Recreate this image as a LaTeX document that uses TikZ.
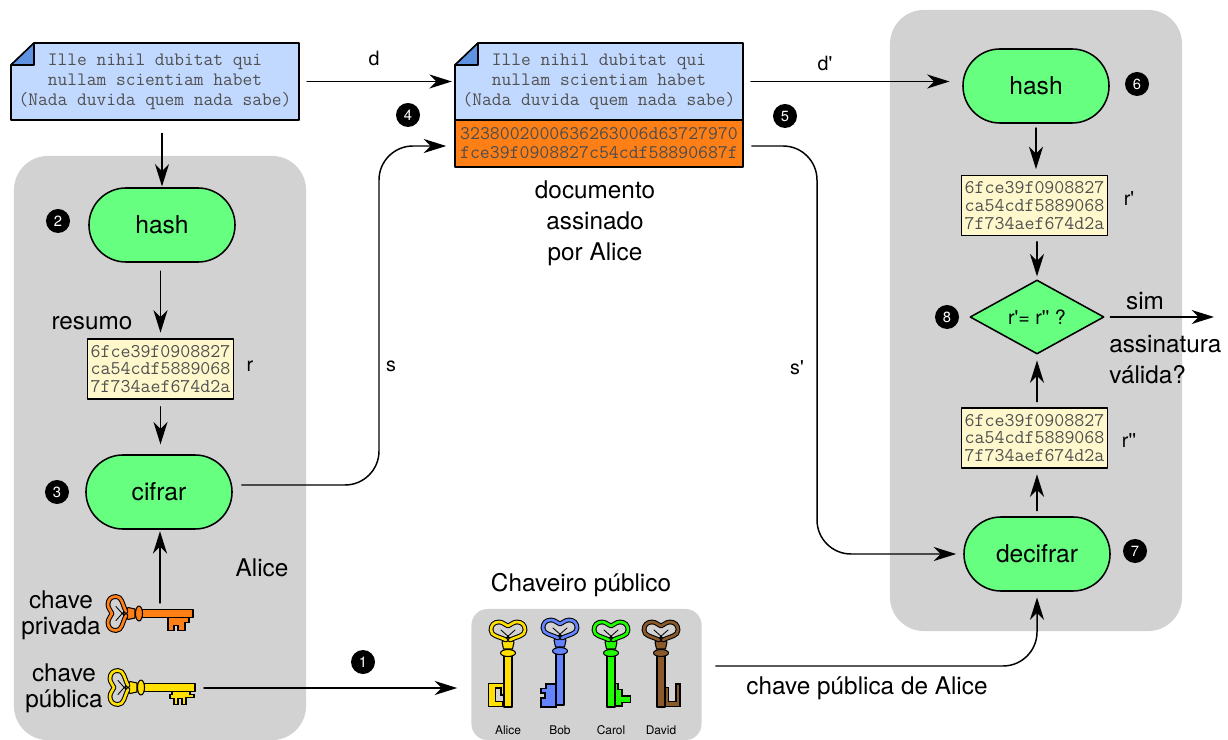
\documentclass[tikz,border=0pt]{standalone}
\usepackage{fontspec}
\setmainfont{TeX Gyre Heros}[Ligatures=TeXOff]
\usepackage{pgf,tikz}
\usetikzlibrary{arrows.meta}
\usetikzlibrary{shapes.geometric}
\usetikzlibrary{shapes.misc}
\definecolor{panelgray}{HTML}{D2D2D2}
\definecolor{stepgreen}{HTML}{66FF80}
\definecolor{docblue}{HTML}{C2D9FF}
\definecolor{earblue}{HTML}{5F92E0}
\definecolor{sigorange}{HTML}{FF7F17}
\definecolor{hashyellow}{HTML}{FFF8CC}
\definecolor{monogray}{HTML}{505050}
\definecolor{keyyellow}{HTML}{FFE000}
\definecolor{keyblue}{HTML}{6484FF}
\definecolor{keygreen}{HTML}{1FFF00}
\definecolor{keybrown}{HTML}{8B5A2B}
\begin{document}
\begin{tikzpicture}[line cap=round,line join=round,x=0.025cm,y=-0.025cm,
  >={Stealth[length=16pt,width=10pt,inset=5pt]},
  panel/.style={fill=panelgray,rounded corners=0.85cm,minimum width=7.3cm},
  stepbox/.style={rounded rectangle,draw=black,line width=1.1pt,fill=stepgreen,minimum width=3.65cm,minimum height=1.85cm,inner sep=0pt,font=\fontsize{17.5}{20}\selectfont},
  doctext/.style={minimum width=7.2cm,minimum height=1.93cm,inner sep=0pt,align=center,text=monogray,font=\ttfamily\fontsize{13.45}{14.2}\selectfont},
  sigtext/.style={draw=black,line width=1.1pt,fill=sigorange,minimum width=7.2cm,minimum height=1.175cm,inner sep=0pt,align=center,text=black!70,font=\ttfamily\fontsize{13.7}{13.5}\selectfont},
  hashtext/.style={draw=black,line width=1pt,fill=hashyellow,minimum width=3.65cm,minimum height=1.5cm,inner sep=0pt,align=center,text=monogray,font=\ttfamily\fontsize{13.8}{12.5}\selectfont},
  bullet/.style={circle,fill=black,text=white,minimum size=0.6cm,inner sep=0pt,font=\fontsize{10.5}{11}\selectfont},
  lbl/.style={inner sep=0pt,align=center,font=\fontsize{17.3}{22}\selectfont},
  keylbl/.style={inner sep=0pt,align=center,font=\fontsize{17.3}{18.5}\selectfont},
  sml/.style={inner sep=0pt,font=\fontsize{14}{16}\selectfont},
  tiny/.style={inner sep=0pt,font=\fontsize{8.5}{10}\selectfont},
  link/.style={->,line width=1.05pt,black},
  pics/keypic/.style 2 args={code={
    \draw[draw=black,line width=0.75pt,fill=#1,line join=miter] #2 -- cycle;
    \draw[draw=black,line width=0.75pt,fill=#1] (34,-4) rectangle (85,4);
    \draw[draw=black,line width=0.75pt,fill=#1] (15,0) -- (20,-6) -- (27,-4.5) -- (27,4.5) -- (20,6) -- cycle;
    \draw[draw=black,line width=0.75pt,fill=#1] (31,0) ellipse (3.5 and 7.5);
    \draw[black,line width=3.4pt] (18,2) .. controls (14,10) and (14,17) .. (8,17) .. controls (3,17) and (0,14) .. (0,9) .. controls (0,5) and (3,3) .. (4,0) .. controls (3,-3) and (0,-5) .. (0,-9) .. controls (0,-14) and (3,-17) .. (8,-17) .. controls (14,-17) and (14,-10) .. (18,-2);
    \draw[#1,line width=1.9pt] (18,2) .. controls (14,10) and (14,17) .. (8,17) .. controls (3,17) and (0,14) .. (0,9) .. controls (0,5) and (3,3) .. (4,0) .. controls (3,-3) and (0,-5) .. (0,-9) .. controls (0,-14) and (3,-17) .. (8,-17) .. controls (14,-17) and (14,-10) .. (18,-2);
    \draw[black,line width=0.6pt] (8,-7) -- (16,2) (8,7) -- (16,-2);
  }}]
\useasboundingbox (0,0) rectangle (1228,740);
% gray panels
\node[panel,minimum height=14.6cm] (alicebox) at (160,448) {};
\node[panel,minimum height=15.525cm] (bobbox) at (1036,320.5) {};
\node[panel,minimum width=5.75cm,minimum height=3.275cm,rounded corners=0.4cm] (keyring) at (586.5,674.5) {};
% documents
\foreach \dx in {0,444} {
\draw[fill=docblue,line width=1.1pt] (11+\dx,65) -- (34+\dx,43) -- (299+\dx,43) -- (299+\dx,120) -- (11+\dx,120) -- cycle;
\draw[fill=earblue,line width=1.1pt] (11+\dx,65) -- (34+\dx,43) -- (34+\dx,65) -- cycle;
}
\node[doctext] (doca) at (155,81.5) {Ille nihil dubitat qui\\nullam scientiam habet\\(Nada duvida quem nada sabe)};
\node[doctext] (docb) at (599,81.5) {Ille nihil dubitat qui\\nullam scientiam habet\\(Nada duvida quem nada sabe)};
\node[sigtext] (sig) at (599,143.5) {3238002000636263006d63727970\\fce39f0908827c54cdf58890687f};
% steps
\node[stepbox] (hasha) at (162,225) {hash};
\node[hashtext] (resumo) at (160.5,369) {6fce39f0908827\\ca54cdf5889068\\7f734aef674d2a};
\node[stepbox] (cifrar) at (159,492) {cifrar};
\node[stepbox] (hashb) at (1036,86) {hash};
\node[hashtext] (rhash) at (1034.5,205.5) {6fce39f0908827\\ca54cdf5889068\\7f734aef674d2a};
\node[diamond,draw=black,line width=1.1pt,fill=stepgreen,aspect=1.8,minimum width=3.35cm,minimum height=1.85cm,inner sep=0pt,font=\fontsize{14}{16}\selectfont] (cmp) at (1037,317) {r'= r'' ?};
\node[hashtext] (rdec) at (1034.5,438) {6fce39f0908827\\ca54cdf5889068\\7f734aef674d2a};
\node[stepbox] (decifrar) at (1037,554) {decifrar};
% numbered bullets
\foreach \n/\x/\y in {1/363/662,2/58/221,3/57/492,4/408/115,5/785/116,6/1137/84,7/1135/551,8/947/317}
\node[bullet] (num\n) at (\x,\y) {\n};
% keys
\pic at (108,613.5) {keypic={sigorange}{(60,3.5) -- (81,3.5) -- (81,9) -- (77,9) -- (77,17) -- (70,17) -- (70,12) -- (66,12) -- (66,17) -- (60,17)}};
\pic at (110,687.5) {keypic={keyyellow}{(62,3.5) -- (80,3.5) -- (80,7) -- (84,7) -- (84,10) -- (76,10) -- (76,17) -- (72,17) -- (72,11) -- (68,11) -- (68,17) -- (64,17) -- (64,11) -- (60,11) -- (60,7) -- (62,7)}};
\pic[rotate=-90] at (508,622) {keypic={keyyellow}{(61.3,3.7) -- (61.3,19.3) -- (84.7,19.3) -- (84.7,5) -- (79.7,5) -- (79.7,12.7) -- (66,12.7) -- (66,7) -- (73,7) -- (73,3.7)}};
\pic[rotate=-90] at (560,620) {keypic={keyblue}{(64,4) -- (64,14) -- (68.3,14) -- (68.3,19) -- (73,19) -- (73,15) -- (78,15) -- (78,19) -- (87,19) -- (87,4)}};
\pic[rotate=-90] at (611,622) {keypic={keygreen}{(61.3,-4) -- (61.3,-7) -- (67.3,-7) -- (67.3,-11) -- (74,-11) -- (74,-19.3) -- (80.7,-19.3) -- (80.7,-11) -- (84,-11) -- (84,-4)}};
\pic[rotate=-90] at (661,622) {keypic={keybrown}{(65.3,-4) -- (65.3,-7.7) -- (79.7,-7.7) -- (79.7,-15) -- (62,-15) -- (62,-19) -- (84.7,-19) -- (84.7,-4)}};
\coordinate (keypriv) at (160,603);
\coordinate (keypub) at (204,688);
\coordinate (busS) at (379,300);
\coordinate (busT) at (817,300);
% connectors
\draw[link,shorten <=5pt,shorten >=0.5pt] (doca.south -| hasha.north) ++(0,6) -- (hasha.north);
\draw[link,shorten <=5.5pt,shorten >=2pt] (doca.east) -- (docb.west);
\draw[link,shorten <=5.5pt,shorten >=9pt] (docb.east) -- (docb.east -| hashb.west);
\draw[link,shorten <=6pt,shorten >=4pt] (hasha.south -| resumo.north) -- (resumo.north);
\draw[link,shorten <=5pt,shorten >=7pt] (resumo.south) -- (cifrar.north -| resumo.south);
\draw[link,shorten >=1pt] (keypriv) -- (cifrar.south -| keypriv);
\draw[link,rounded corners=0.85cm] ([shift={(9,-7)}]cifrar.east) -| (busS) |- ([shift={(-8,2.5)}]sig.west);
\draw[link,rounded corners=0.85cm] ([shift={(8,2.5)}]sig.east) -| (busT) |- ([xshift=-5pt]decifrar.west);
\draw[link,shorten >=10pt] (keypub) -- (keypub -| keyring.west);
\draw[link,rounded corners=0.85cm,shorten >=4pt] ([shift={(14,-8.5)}]keyring.east) -| (decifrar.south);
\draw[link,shorten <=3pt,shorten >=4pt] (hashb.south) -- (rhash.north -| hashb.south);
\draw[link,shorten <=4pt,shorten >=2pt] (rhash.south -| cmp.north) -- (cmp.north);
\draw[link,shorten <=4pt,shorten >=4pt] (decifrar.north) -- (rdec.south -| decifrar.north);
\draw[link,shorten <=4pt,shorten >=4pt] (rdec.north -| cmp.south) -- (cmp.south);
\coordinate (simend) at (1214,317);
\draw[link,shorten <=4pt] (cmp.east) -- (simend);
% labels
\node[sml] (lbld) at (374,58) {d};
\node[sml] (lbldp) at (825,63) {d'};
\node[sml] (lbls) at (391,366) {s};
\node[sml] (lblsp) at (797,368) {s'};
\node[sml] (lblr) at (250,366) {r};
\node[sml] (lblrp) at (1129,199) {r'};
\node[sml] (lblrr) at (1129,441) {r''};
\node[lbl] (lblresumo) at (92,323) {resumo};
\node[lbl] (lblass) at (595,223) {documento\\assinado\\por Alice};
\node[lbl] (lblalice) at (262,568) {Alice};
\node[keylbl] (lblpriv) at (61,615) {chave\\privada};
\node[keylbl] (lblpub) at (64,688) {chave\\pública};
\node[lbl] (lblchav) at (581,585) {Chaveiro público};
\node[lbl] (lblpubal) at (867,688) {chave pública de Alice};
\node[lbl] (lblsim) at (1145,301) {sim};
\node[lbl,anchor=west,align=left] (lblval) at (1109,359.5) {assinatura\\válida?};
\foreach \nm/\x in {Alice/508,Bob/560,Carol/611,David/661}
\node[tiny] (nm\nm) at (\x,730) {\nm};
\end{tikzpicture}
\end{document}
